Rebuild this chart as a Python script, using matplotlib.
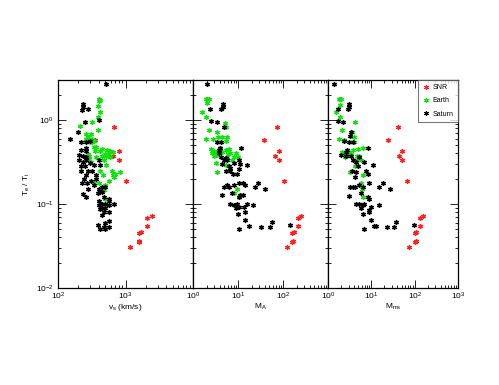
import matplotlib
matplotlib.use("Agg")
import matplotlib.pyplot as plt
from matplotlib.ticker import LogLocator, NullFormatter, FixedLocator
import numpy as np

plt.rcParams['font.family'] = ['Liberation Sans', 'DejaVu Sans']
plt.rcParams['mathtext.fontset'] = 'custom'
plt.rcParams['mathtext.rm'] = 'Liberation Sans'
plt.rcParams['mathtext.it'] = 'Liberation Sans'

# ---------------- data ----------------
# SNR (shared Te/Ti across panels)
snr_T = [0.82, 0.58, 0.43, 0.37, 0.33, 0.19, 0.073, 0.069, 0.055, 0.046, 0.045, 0.036, 0.035, 0.031]
snr_vs = [685, 359, 800, 662, 800, 1010, 2430, 2110, 2110, 1705, 1580, 1610, 1580, 1156]
snr_MA = [72, 38, 83, 68, 83, 103, 251, 215, 215, 176, 162, 168, 162, 122]
snr_Mms = [42, 24, 52, 44, 52, 66, 158, 133, 133, 109, 102, 105, 102, 74]

# Earth - panel 1 (v_s)
earth_vs = [410, 405, 415, 385, 416, 393, 322, 388, 263, 304, 213, 281, 322, 294, 322, 340, 263,
            367, 340, 352, 281, 287, 287, 304, 360, 425, 449, 530, 592, 560, 490, 515, 449, 592,
            662, 475, 515, 425, 625, 700, 830, 662, 685, 560, 400, 449, 475, 490, 340, 502, 457]
earth_vs_T = [1.8, 1.7, 1.75, 1.48, 1.26, 1.1, 0.94, 0.76, 0.69, 0.69, 0.86, 0.63, 0.6, 0.55, 0.55,
              0.56, 0.59, 0.48, 0.48, 0.43, 0.39, 0.37, 0.34, 0.32, 0.36, 0.43, 0.45, 0.44, 0.43,
              0.39, 0.39, 0.37, 0.37, 0.36, 0.42, 0.33, 0.29, 0.25, 0.25, 0.23, 0.24, 0.22, 0.21,
              0.19, 0.18, 0.15, 0.147, 0.115, 0.18, 0.17, 0.22]

# Saturn - panel 1 (v_s)
sat_vs = [519, 235, 238, 225, 281, 252, 411, 199, 152, 218, 263, 297, 263, 218, 263, 202, 238, 263,
          202, 235, 263, 294, 218, 252, 281, 218, 314, 263, 230, 272, 304, 367, 281, 238, 263, 340,
          411, 449, 490, 393, 449, 475, 411, 560, 685, 449, 490, 411, 449, 502, 425, 560, 475, 560,
          449, 393, 416, 490, 475, 560, 502, 560, 575, 411, 425, 340, 243, 360]
sat_vs_T = [2.68, 1.54, 1.44, 1.32, 1.34, 0.95, 1.0, 0.73, 0.60, 0.55, 0.55, 0.56, 0.46, 0.44, 0.43,
            0.38, 0.37, 0.36, 0.33, 0.32, 0.33, 0.31, 0.28, 0.28, 0.25, 0.25, 0.25, 0.22, 0.18, 0.18,
            0.19, 0.20, 0.15, 0.13, 0.12, 0.17, 0.15, 0.16, 0.16, 0.137, 0.14, 0.12, 0.11, 0.11, 0.10,
            0.10, 0.10, 0.097, 0.09, 0.089, 0.087, 0.097, 0.081, 0.081, 0.074, 0.056, 0.051, 0.06,
            0.054, 0.054, 0.051, 0.062, 0.114, 0.33, 0.29, 0.29, 0.2, 0.22]

# Earth - panel 2 (M_A)
earth_MA = [1.95, 2.05, 2.3, 2.1, 1.57, 1.95, 2.23, 1.95, 2.72, 3.49, 3.68, 5.1, 5.3, 5.77, 5.3, 4.3,
            2.5, 2.63, 3.2, 3.5, 2.96, 4.5, 5.3, 6.26, 6.8, 5.77, 8.0, 8.8, 10.0, 7.4, 3.2, 5.3, 3.4,
            9.5, 10.3, 8.0, 4.0, 3.0, 6.0]
earth_MA_T = [1.78, 1.8, 1.76, 1.58, 1.26, 1.1, 0.76, 0.59, 0.59, 0.73, 0.63, 0.93, 0.82, 0.63, 0.57,
              0.63, 0.45, 0.40, 0.42, 0.38, 0.37, 0.42, 0.44, 0.45, 0.40, 0.36, 0.36, 0.40, 0.36,
              0.33, 0.31, 0.29, 0.24, 0.15, 0.12, 0.134, 0.47, 0.43, 0.39]

# Saturn - panel 2 (M_A)
sat_MA = [2.05, 4.56, 4.56, 4.13, 2.42, 2.55, 3.38, 4.88, 3.49, 4.27, 4.0, 11.8, 3.8, 4.88, 5.77, 4.5,
          6.26, 5.3, 6.8, 8.0, 10.3, 11.2, 15.7, 10.7, 7.7, 9.5, 4.88, 5.77, 6.26, 8.0, 10.3, 13.2,
          14.4, 23.7, 27.3, 40.5, 4.5, 7.4, 10.3, 11.2, 13.2, 6.8, 8.0, 9.5, 8.8, 10.3, 13.9, 15.7,
          21.8, 14.4, 10.0, 14.4, 17.6, 10.7, 33.2, 50.5, 56.6, 144, 3.8, 4.1, 5.5, 6.5]
sat_MA_T = [2.68, 1.54, 1.44, 1.34, 1.34, 0.98, 0.94, 0.82, 0.55, 0.55, 0.46, 0.47, 0.44, 0.33, 0.33,
            0.30, 0.28, 0.25, 0.25, 0.31, 0.33, 0.30, 0.29, 0.26, 0.23, 0.23, 0.16, 0.17, 0.16, 0.17,
            0.18, 0.18, 0.17, 0.16, 0.18, 0.15, 0.128, 0.137, 0.12, 0.128, 0.128, 0.10, 0.097, 0.10,
            0.089, 0.093, 0.093, 0.10, 0.097, 0.081, 0.077, 0.065, 0.055, 0.051, 0.053, 0.053, 0.061,
            0.056, 0.40, 0.36, 0.35, 0.27]

# Earth - panel 3 (M_ms)
earth_Mms = [1.8, 1.9, 2.0, 1.9, 1.5, 1.85, 2.1, 1.8, 2.4, 4.3, 3.6, 3.9, 3.9, 6.3, 4.9, 2.1, 2.4, 2.7,
             3.1, 3.4, 2.5, 3.7, 4.6, 5.1, 4.6, 5.8, 3.25, 4.1, 6.3, 5.8, 6.1, 6.5, 2.9]
earth_Mms_T = [1.8, 1.78, 1.76, 1.5, 1.26, 1.1, 0.76, 0.59, 0.58, 0.94, 0.73, 0.62, 0.55, 0.47, 0.45,
               0.42, 0.40, 0.41, 0.42, 0.39, 0.36, 0.44, 0.37, 0.37, 0.33, 0.33, 0.24, 0.28, 0.22,
               0.18, 0.15, 0.12, 0.38]

# Saturn - panel 3 (M_ms)
sat_Mms = [1.37, 3.13, 3.13, 2.87, 1.69, 1.69, 2.2, 3.42, 3.25, 3.02, 2.4, 3.73, 2.7, 2.6, 8.3, 2.0,
           2.6, 3.4, 3.73, 4.4, 5.3, 4.9, 3.6, 4.4, 6.9, 10.7, 7.5, 8.3, 4.1, 3.2, 3.7, 4.3, 5.3, 6.3,
           8.7, 15.3, 18.2, 26.7, 3.13, 5.8, 8.3, 9.0, 4.4, 5.3, 6.3, 6.8, 5.8, 9.0, 9.8, 14.7, 8.7,
           6.3, 9.8, 11.7, 12.5, 6.9, 23.6, 33.5, 38, 96]
sat_Mms_T = [2.68, 1.54, 1.44, 1.34, 1.34, 0.98, 0.94, 0.73, 0.65, 0.55, 0.56, 0.55, 0.44, 0.42, 0.47,
             0.38, 0.37, 0.37, 0.33, 0.32, 0.36, 0.28, 0.25, 0.24, 0.32, 0.29, 0.25, 0.23, 0.21, 0.16,
             0.16, 0.16, 0.17, 0.16, 0.18, 0.16, 0.18, 0.15, 0.126, 0.137, 0.12, 0.115, 0.10, 0.10,
             0.097, 0.10, 0.089, 0.085, 0.093, 0.097, 0.081, 0.076, 0.065, 0.055, 0.055, 0.051, 0.053,
             0.053, 0.061, 0.056]

RED = '#ff2020'
GREEN = '#10e010'
BLACK = '#000000'

fig = plt.figure(figsize=(4.99, 3.85), dpi=100)
W, H = 499.0, 385.0
panels = [(58, 193), (193, 328), (328, 458)]
top, bottom = 80, 288
axes = []
for (l, r) in panels:
    ax = fig.add_axes([l / W, 1 - bottom / H, (r - l) / W, (bottom - top) / H])
    axes.append(ax)


def scatter(ax, x, y, c, label=None):
    ax.plot(x, y, linestyle='none', marker='o', ms=3.8, mec='none', mfc=c, alpha=0.3)
    ax.plot(x, y, linestyle='none', marker=(6, 2, 0), ms=3.4, mew=0.8, mec=c, color=c, label=label)


xlims = [(1e2, 1e4), (1e0, 1e3), (1e0, 1e3)]
xlabels = ['v$_\\mathrm{s}$ (km/s)', 'M$_\\mathrm{A}$', 'M$_\\mathrm{ms}$']
xmajor = [[1e2, 1e3, 1e4], [1e0, 1e1, 1e2, 1e3], [1e0, 1e1, 1e2, 1e3]]
data = [
    (snr_vs, earth_vs, earth_vs_T, sat_vs, sat_vs_T),
    (snr_MA, earth_MA, earth_MA_T, sat_MA, sat_MA_T),
    (snr_Mms, earth_Mms, earth_Mms_T, sat_Mms, sat_Mms_T),
]

for i, ax in enumerate(axes):
    snr_x, ex, ey, sx, sy = data[i]
    scatter(ax, snr_x, snr_T, RED, 'SNR')
    scatter(ax, ex, ey, GREEN, 'Earth')
    scatter(ax, sx, sy, BLACK, 'Saturn')
    ax.set_xscale('log')
    ax.set_yscale('log')
    ax.set_xlim(*xlims[i])
    ax.set_ylim(1e-2, 3)
    ax.xaxis.set_major_locator(FixedLocator(xmajor[i]))
    ax.xaxis.set_minor_locator(LogLocator(base=10, subs=np.arange(2, 10), numticks=20))
    ax.xaxis.set_minor_formatter(NullFormatter())
    ax.yaxis.set_major_locator(FixedLocator([1e-2, 1e-1, 1e0]))
    ax.yaxis.set_minor_locator(LogLocator(base=10, subs=np.arange(2, 10), numticks=20))
    ax.yaxis.set_minor_formatter(NullFormatter())
    ax.tick_params(which='both', direction='in', top=True, right=True, labelsize=6, width=0.6)
    ax.tick_params(axis='x', pad=2)
    ax.tick_params(axis='y', pad=3)
    ax.tick_params(which='major', length=5.5)
    ax.tick_params(which='minor', length=2.5)
    for s in ax.spines.values():
        s.set_linewidth(0.9)
    labels = ['$\\mathregular{10^{%d}}$' % int(round(np.log10(t))) for t in xmajor[i]]
    if i in (0, 1):
        labels[-1] = ''
    ax.set_xticklabels(labels)
    ax.set_xlabel(xlabels[i], fontsize=6, labelpad=0)
    if i == 0:
        ax.set_yticklabels(['$\\mathregular{10^{-2}}$', '$\\mathregular{10^{-1}}$', '$\\mathregular{10^{0}}$'])
        ax.set_ylabel('T$_\\mathrm{e}$ / T$_\\mathrm{i}$', fontsize=6, labelpad=3)
    else:
        ax.set_yticklabels([])

h, l = axes[2].get_legend_handles_labels()
leg = axes[2].legend(h, l, loc='upper right', fontsize=5, frameon=True, fancybox=False,
                     borderpad=0.6, labelspacing=0.9, handlelength=1.0, handletextpad=0.5,
                     borderaxespad=0.0)
leg.get_frame().set_edgecolor('#555555')
leg.get_frame().set_linewidth(0.8)

fig.savefig('out.png', dpi=100)
